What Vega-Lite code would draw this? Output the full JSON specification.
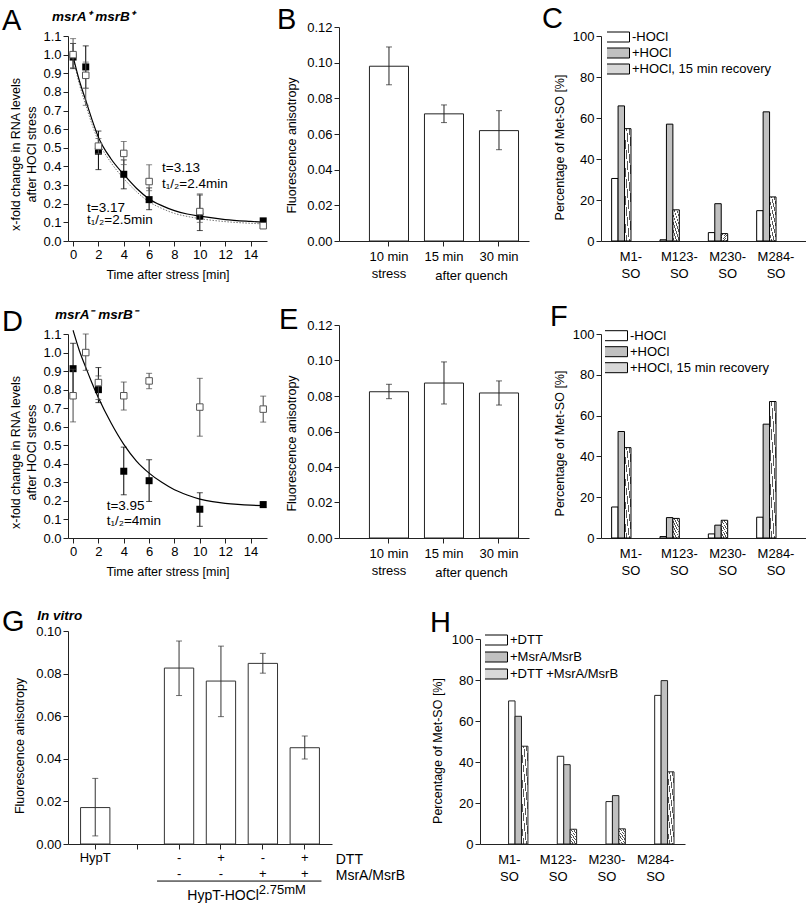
{
  "$schema": "https://vega.github.io/schema/vega-lite/v6.json",
  "background": "white",
  "padding": {"left": 2, "top": 5, "right": 0, "bottom": 0},
  "config": {
    "font": "Liberation Sans",
    "view": {"stroke": null},
    "axis": {"domainColor": "#222", "tickColor": "#222", "labelColor": "#000", "titleColor": "#000", "labelFontSize": 13, "titleFontSize": 12.5, "titleFontWeight": "normal", "grid": false, "tickSize": 5, "labelPadding": 2, "titlePadding": 6, "labelOverlap": false, "labelFont": "Liberation Sans", "titleFont": "Liberation Sans"},
    "title": {"fontSize": 29, "fontWeight": "normal", "anchor": "start", "frame": "group", "offset": 0, "baseline": "alphabetic", "color": "#000", "font": "Liberation Sans"},
    "legend": {"symbolType": "M-1.2,-0.5H1.2V0.5H-1.2Z", "symbolSize": 400, "symbolStrokeColor": "#000", "symbolStrokeWidth": 1, "symbolOpacity": 1, "labelFontSize": 13, "labelColor": "#000", "labelOffset": 4, "rowPadding": 2, "padding": 0, "clipHeight": 13, "labelFont": "Liberation Sans"},
    "text": {"font": "Liberation Sans", "color": "#000"}
  },
  "datasets": {
    "Acurve": [
      {"s": "solid", "t": 0, "v": 0.99}, {"s": "solid", "t": 0.5, "v": 0.86}, {"s": "solid", "t": 1, "v": 0.755}, {"s": "solid", "t": 1.5, "v": 0.65}, {"s": "solid", "t": 2, "v": 0.557}, {"s": "solid", "t": 3, "v": 0.44}, {"s": "solid", "t": 4, "v": 0.357}, {"s": "solid", "t": 5, "v": 0.283}, {"s": "solid", "t": 6, "v": 0.226}, {"s": "solid", "t": 7, "v": 0.19}, {"s": "solid", "t": 8, "v": 0.163}, {"s": "solid", "t": 9, "v": 0.145}, {"s": "solid", "t": 10, "v": 0.133}, {"s": "solid", "t": 12, "v": 0.115}, {"s": "solid", "t": 14, "v": 0.105}, {"s": "solid", "t": 15, "v": 0.101},
      {"s": "dotted", "t": 0, "v": 0.985}, {"s": "dotted", "t": 0.5, "v": 0.84}, {"s": "dotted", "t": 1, "v": 0.73}, {"s": "dotted", "t": 1.5, "v": 0.625}, {"s": "dotted", "t": 2, "v": 0.535}, {"s": "dotted", "t": 3, "v": 0.42}, {"s": "dotted", "t": 4, "v": 0.335}, {"s": "dotted", "t": 5, "v": 0.265}, {"s": "dotted", "t": 6, "v": 0.21}, {"s": "dotted", "t": 7, "v": 0.175}, {"s": "dotted", "t": 8, "v": 0.148}, {"s": "dotted", "t": 9, "v": 0.132}, {"s": "dotted", "t": 10, "v": 0.12}, {"s": "dotted", "t": 12, "v": 0.104}, {"s": "dotted", "t": 14, "v": 0.095}, {"s": "dotted", "t": 15, "v": 0.092}
    ],
    "Apts": [
      {"s": "f", "t": 0, "v": 0.987, "lo": 0.925, "hi": 1.06}, {"s": "f", "t": 1, "v": 0.934, "lo": 0.82, "hi": 1.047}, {"s": "f", "t": 2, "v": 0.482, "lo": 0.383, "hi": 0.59}, {"s": "f", "t": 4, "v": 0.358, "lo": 0.28, "hi": 0.435}, {"s": "f", "t": 6, "v": 0.222, "lo": 0.168, "hi": 0.285}, {"s": "f", "t": 10, "v": 0.133, "lo": 0.056, "hi": 0.247}, {"s": "f", "t": 15, "v": 0.108, "lo": 0.098, "hi": 0.118},
      {"s": "o", "t": 0, "v": 1.0, "lo": 0.93, "hi": 1.086}, {"s": "o", "t": 1, "v": 0.889, "lo": 0.728, "hi": 0.96}, {"s": "o", "t": 2, "v": 0.509, "lo": 0.47, "hi": 0.55}, {"s": "o", "t": 4, "v": 0.47, "lo": 0.41, "hi": 0.534}, {"s": "o", "t": 6, "v": 0.319, "lo": 0.27, "hi": 0.409}, {"s": "o", "t": 10, "v": 0.158, "lo": 0.1, "hi": 0.253}, {"s": "o", "t": 15, "v": 0.082, "lo": 0.072, "hi": 0.092}
    ],
    "Atext": [
      {"x": 7.02, "y": 0.392, "t": "t=3.13"}, {"x": 7.02, "y": 0.306, "t": "t₁/₂=2.4min"}, {"x": 1.1, "y": 0.177, "t": "t=3.17"}, {"x": 1.1, "y": 0.113, "t": "t₁/₂=2.5min"}
    ],
    "Alabel": [{"x": -1.66, "y": 1.2, "t": "msrA⁺ msrB⁺"}],
    "Dcurve": [
      {"t": 0, "v": 1.12}, {"t": 0.5, "v": 1.01}, {"t": 1, "v": 0.92}, {"t": 1.5, "v": 0.835}, {"t": 2, "v": 0.756}, {"t": 3, "v": 0.62}, {"t": 4, "v": 0.505}, {"t": 5, "v": 0.415}, {"t": 6, "v": 0.35}, {"t": 7, "v": 0.3}, {"t": 8, "v": 0.26}, {"t": 9, "v": 0.232}, {"t": 10, "v": 0.21}, {"t": 11, "v": 0.196}, {"t": 12, "v": 0.187}, {"t": 13, "v": 0.181}, {"t": 14, "v": 0.177}, {"t": 15, "v": 0.175}
    ],
    "Dpts": [
      {"s": "f", "t": 0, "v": 0.913, "lo": 0.78, "hi": 1.05}, {"s": "f", "t": 2, "v": 0.8, "lo": 0.73, "hi": 0.919}, {"s": "f", "t": 4, "v": 0.36, "lo": 0.233, "hi": 0.49}, {"s": "f", "t": 6, "v": 0.309, "lo": 0.197, "hi": 0.422}, {"s": "f", "t": 10, "v": 0.155, "lo": 0.063, "hi": 0.244}, {"s": "f", "t": 15, "v": 0.18, "lo": 0.165, "hi": 0.195},
      {"s": "o", "t": 0, "v": 0.767, "lo": 0.626, "hi": 0.91}, {"s": "o", "t": 1, "v": 1.0, "lo": 0.904, "hi": 1.1}, {"s": "o", "t": 2, "v": 0.838, "lo": 0.747, "hi": 0.874}, {"s": "o", "t": 4, "v": 0.767, "lo": 0.69, "hi": 0.841}, {"s": "o", "t": 6, "v": 0.847, "lo": 0.805, "hi": 0.888}, {"s": "o", "t": 10, "v": 0.706, "lo": 0.549, "hi": 0.861}, {"s": "o", "t": 15, "v": 0.695, "lo": 0.625, "hi": 0.765}
    ],
    "Dtext": [{"x": 2.65, "y": 0.174, "t": "t=3.95"}, {"x": 2.65, "y": 0.093, "t": "t₁/₂=4min"}],
    "Dlabel": [{"x": -1.43, "y": 1.2, "t": "msrA⁻ msrB⁻"}],
    "B": [
      {"c": "10 min", "v": 0.098, "lo": 0.0876, "hi": 0.1088}, {"c": "15 min", "v": 0.0713, "lo": 0.0664, "hi": 0.0763}, {"c": "30 min", "v": 0.0619, "lo": 0.0512, "hi": 0.0731}
    ],
    "E": [
      {"c": "10 min", "v": 0.0824, "lo": 0.0785, "hi": 0.0866}, {"c": "15 min", "v": 0.0873, "lo": 0.0755, "hi": 0.0992}, {"c": "30 min", "v": 0.0817, "lo": 0.0749, "hi": 0.0885}
    ],
    "C": [
      {"g": "M1- SO", "s": "-HOCl", "v": 30.5}, {"g": "M1- SO", "s": "+HOCl", "v": 65.9}, {"g": "M1- SO", "s": "+HOCl, 15 min recovery", "v": 54.8},
      {"g": "M123- SO", "s": "-HOCl", "v": 0.6}, {"g": "M123- SO", "s": "+HOCl", "v": 57.0}, {"g": "M123- SO", "s": "+HOCl, 15 min recovery", "v": 15.2},
      {"g": "M230- SO", "s": "-HOCl", "v": 4.1}, {"g": "M230- SO", "s": "+HOCl", "v": 18.2}, {"g": "M230- SO", "s": "+HOCl, 15 min recovery", "v": 3.6},
      {"g": "M284- SO", "s": "-HOCl", "v": 14.8}, {"g": "M284- SO", "s": "+HOCl", "v": 63.0}, {"g": "M284- SO", "s": "+HOCl, 15 min recovery", "v": 21.5}
    ],
    "F": [
      {"g": "M1- SO", "s": "-HOCl", "v": 15.2}, {"g": "M1- SO", "s": "+HOCl", "v": 52.2}, {"g": "M1- SO", "s": "+HOCl, 15 min recovery", "v": 44.3},
      {"g": "M123- SO", "s": "-HOCl", "v": 0.7}, {"g": "M123- SO", "s": "+HOCl", "v": 10.0}, {"g": "M123- SO", "s": "+HOCl, 15 min recovery", "v": 9.6},
      {"g": "M230- SO", "s": "-HOCl", "v": 2.0}, {"g": "M230- SO", "s": "+HOCl", "v": 6.3}, {"g": "M230- SO", "s": "+HOCl, 15 min recovery", "v": 8.7},
      {"g": "M284- SO", "s": "-HOCl", "v": 10.2}, {"g": "M284- SO", "s": "+HOCl", "v": 55.8}, {"g": "M284- SO", "s": "+HOCl, 15 min recovery", "v": 66.9}
    ],
    "H": [
      {"g": "M1- SO", "s": "+DTT", "v": 69.8}, {"g": "M1- SO", "s": "+MsrA/MsrB", "v": 62.3}, {"g": "M1- SO", "s": "+DTT +MsrA/MsrB", "v": 47.7},
      {"g": "M123- SO", "s": "+DTT", "v": 42.8}, {"g": "M123- SO", "s": "+MsrA/MsrB", "v": 38.7}, {"g": "M123- SO", "s": "+DTT +MsrA/MsrB", "v": 7.2},
      {"g": "M230- SO", "s": "+DTT", "v": 20.7}, {"g": "M230- SO", "s": "+MsrA/MsrB", "v": 23.6}, {"g": "M230- SO", "s": "+DTT +MsrA/MsrB", "v": 7.4},
      {"g": "M284- SO", "s": "+DTT", "v": 72.5}, {"g": "M284- SO", "s": "+MsrA/MsrB", "v": 79.7}, {"g": "M284- SO", "s": "+DTT +MsrA/MsrB", "v": 35.2}
    ],
    "G": [
      {"c": "HypT", "v": 0.0171, "lo": 0.0038, "hi": 0.0308}, {"c": "c1", "v": 0.0826, "lo": 0.0697, "hi": 0.0953}, {"c": "c2", "v": 0.0765, "lo": 0.0598, "hi": 0.0929}, {"c": "c3", "v": 0.0848, "lo": 0.0802, "hi": 0.0895}, {"c": "c4", "v": 0.0452, "lo": 0.0399, "hi": 0.0507}
    ],
    "Grow": [{"c": "c4", "y": -0.0075, "t": "DTT"}, {"c": "c4", "y": -0.015, "t": "MsrA/MsrB"}],
    "Gline": [{"a": "c1", "b": "c4", "y": -0.0174}],
    "Gsub": [{"c": "c3", "y": -0.0244, "t": "HypT-HOCl"}],
    "Gsup": [{"c": "c3", "y": -0.0214, "t": "2.75mM"}],
    "Gvitro": [{"c": "HypT", "y": 0.107, "t": "In vitro"}]
  },
  "resolve": {"scale": {"fill": "independent"}, "legend": {"fill": "independent"}},
  "spacing": 29,
  "vconcat": [
    {
      "resolve": {"scale": {"fill": "independent"}, "legend": {"fill": "independent"}},
      "spacing": 21,
      "vconcat": [
        {
          "resolve": {"scale": {"fill": "independent"}, "legend": {"fill": "independent"}},
          "bounds": "flush",
          "spacing": 72,
          "hconcat": [
            {
              "width": 199, "height": 214,
              "title": {"text": "A", "dx": -66, "dy": 30},
              "layer": [
                {"data": {"name": "Acurve"}, "transform": [{"filter": "datum.s == 'dotted'"}],
                 "mark": {"type": "line", "interpolate": "monotone", "color": "#777", "strokeWidth": 1, "strokeDash": [1.5, 1.5]},
                 "encoding": {
                   "x": {"field": "t", "type": "quantitative", "scale": {"domain": [-0.4, 15.3], "nice": false, "zero": false}, "axis": {"values": [0, 2, 4, 6, 8, 10, 12, 14], "labelOverlap": false, "title": "Time after stress [min]", "titlePadding": 7}},
                   "y": {"field": "v", "type": "quantitative", "scale": {"domain": [0, 1.1], "nice": false, "zero": false, "range": [214, 9]}, "axis": {"values": [0, 0.1, 0.2, 0.3, 0.4, 0.5, 0.6, 0.7, 0.8, 0.9, 1, 1.1], "labelOverlap": false, "format": ".1f", "title": ["x-fold change in RNA levels", "after HOCl stress"], "titleY": 127, "titlePadding": 4, "titleLineHeight": 16}}
                 }},
                {"data": {"name": "Acurve"}, "transform": [{"filter": "datum.s == 'solid'"}],
                 "mark": {"type": "line", "interpolate": "monotone", "color": "#000", "strokeWidth": 1.2},
                 "encoding": {"x": {"field": "t", "type": "quantitative", "axis": {"values": [0, 2, 4, 6, 8, 10, 12, 14]}}, "y": {"field": "v", "type": "quantitative", "axis": {"values": [0, 0.1, 0.2, 0.3, 0.4, 0.5, 0.6, 0.7, 0.8, 0.9, 1, 1.1], "format": ".1f"}}}},
                {"data": {"name": "Apts"}, "transform": [{"filter": "datum.s == 'f'"}],
                 "mark": {"type": "rule", "color": "#000"},
                 "encoding": {"x": {"field": "t", "type": "quantitative", "axis": {"values": [0, 2, 4, 6, 8, 10, 12, 14]}}, "y": {"field": "lo", "type": "quantitative", "axis": {"values": [0, 0.1, 0.2, 0.3, 0.4, 0.5, 0.6, 0.7, 0.8, 0.9, 1, 1.1], "format": ".1f"}}, "y2": {"field": "hi"}}},
                {"data": {"name": "Apts"}, "transform": [{"filter": "datum.s == 'f'"}, {"fold": ["lo", "hi"], "as": ["k", "e"]}],
                 "mark": {"type": "tick", "orient": "horizontal", "size": 6, "thickness": 1, "color": "#000"},
                 "encoding": {"x": {"field": "t", "type": "quantitative", "axis": {"values": [0, 2, 4, 6, 8, 10, 12, 14]}}, "y": {"field": "e", "type": "quantitative", "axis": {"values": [0, 0.1, 0.2, 0.3, 0.4, 0.5, 0.6, 0.7, 0.8, 0.9, 1, 1.1], "format": ".1f"}}}},
                {"data": {"name": "Apts"}, "transform": [{"filter": "datum.s == 'f'"}],
                 "mark": {"type": "point", "shape": "square", "filled": true, "color": "#000", "size": 49, "opacity": 1},
                 "encoding": {"x": {"field": "t", "type": "quantitative", "axis": {"values": [0, 2, 4, 6, 8, 10, 12, 14]}}, "y": {"field": "v", "type": "quantitative", "axis": {"values": [0, 0.1, 0.2, 0.3, 0.4, 0.5, 0.6, 0.7, 0.8, 0.9, 1, 1.1], "format": ".1f"}}}},
                {"data": {"name": "Apts"}, "transform": [{"filter": "datum.s == 'o'"}],
                 "mark": {"type": "rule", "color": "#555"},
                 "encoding": {"x": {"field": "t", "type": "quantitative", "axis": {"values": [0, 2, 4, 6, 8, 10, 12, 14]}}, "y": {"field": "lo", "type": "quantitative", "axis": {"values": [0, 0.1, 0.2, 0.3, 0.4, 0.5, 0.6, 0.7, 0.8, 0.9, 1, 1.1], "format": ".1f"}}, "y2": {"field": "hi"}}},
                {"data": {"name": "Apts"}, "transform": [{"filter": "datum.s == 'o'"}, {"fold": ["lo", "hi"], "as": ["k", "e"]}],
                 "mark": {"type": "tick", "orient": "horizontal", "size": 6, "thickness": 1, "color": "#555"},
                 "encoding": {"x": {"field": "t", "type": "quantitative", "axis": {"values": [0, 2, 4, 6, 8, 10, 12, 14]}}, "y": {"field": "e", "type": "quantitative", "axis": {"values": [0, 0.1, 0.2, 0.3, 0.4, 0.5, 0.6, 0.7, 0.8, 0.9, 1, 1.1], "format": ".1f"}}}},
                {"data": {"name": "Apts"}, "transform": [{"filter": "datum.s == 'o'"}],
                 "mark": {"type": "point", "shape": "square", "filled": true, "fill": "#fff", "stroke": "#555", "strokeWidth": 1, "size": 42, "opacity": 1},
                 "encoding": {"x": {"field": "t", "type": "quantitative", "axis": {"values": [0, 2, 4, 6, 8, 10, 12, 14]}}, "y": {"field": "v", "type": "quantitative", "axis": {"values": [0, 0.1, 0.2, 0.3, 0.4, 0.5, 0.6, 0.7, 0.8, 0.9, 1, 1.1], "format": ".1f"}}}},
                {"data": {"name": "Atext"},
                 "mark": {"type": "text", "align": "left", "baseline": "middle", "fontSize": 13.5},
                 "encoding": {"x": {"field": "x", "type": "quantitative", "axis": {"values": [0, 2, 4, 6, 8, 10, 12, 14]}}, "y": {"field": "y", "type": "quantitative", "axis": {"values": [0, 0.1, 0.2, 0.3, 0.4, 0.5, 0.6, 0.7, 0.8, 0.9, 1, 1.1], "format": ".1f"}}, "text": {"field": "t"}}},
                {"data": {"name": "Alabel"},
                 "mark": {"type": "text", "align": "left", "baseline": "middle", "fontSize": 13.5, "fontStyle": "italic", "fontWeight": "bold"},
                 "encoding": {"x": {"field": "x", "type": "quantitative", "axis": {"values": [0, 2, 4, 6, 8, 10, 12, 14]}}, "y": {"field": "y", "type": "quantitative", "axis": {"values": [0, 0.1, 0.2, 0.3, 0.4, 0.5, 0.6, 0.7, 0.8, 0.9, 1, 1.1], "format": ".1f"}}, "text": {"field": "t"}}}
              ]
            },
            {
              "width": 190, "height": 214,
              "title": {"text": "B", "dx": -62, "dy": 18},
              "data": {"name": "B"},
              "layer": [
                {"mark": {"type": "bar", "fill": "#fff", "stroke": "#222", "strokeWidth": 1},
                 "encoding": {
                   "x": {"field": "c", "type": "nominal", "scale": {"domain": ["10 min", "15 min", "30 min"], "paddingInner": 0.29, "paddingOuter": 0.372, "align": 0.744}, "axis": {"labelAngle": 0, "labelOverlap": false, "labelExpr": "datum.value == '10 min' ? ['10 min', 'stress'] : datum.value", "labelLineHeight": 17, "labelPadding": 4, "title": "after quench", "titleX": 132, "titleY": 34, "titleBaseline": "middle", "titleFontSize": 13}},
                   "y": {"field": "v", "type": "quantitative", "scale": {"domain": [0, 0.12], "nice": false}, "axis": {"values": [0, 0.02, 0.04, 0.06, 0.08, 0.1, 0.12], "labelOverlap": false, "format": ".2f", "title": "Fluorescence anisotropy", "titleY": 118, "titlePadding": 8}}
                 }},
                {"mark": {"type": "rule", "color": "#222"},
                 "encoding": {"x": {"field": "c", "type": "nominal"}, "y": {"field": "lo", "type": "quantitative", "axis": {"values": [0, 0.02, 0.04, 0.06, 0.08, 0.1, 0.12], "format": ".2f"}}, "y2": {"field": "hi"}}},
                {"transform": [{"fold": ["lo", "hi"], "as": ["k", "e"]}],
                 "mark": {"type": "tick", "orient": "horizontal", "size": 6, "thickness": 1, "color": "#222"},
                 "encoding": {"x": {"field": "c", "type": "nominal"}, "y": {"field": "e", "type": "quantitative", "axis": {"values": [0, 0.02, 0.04, 0.06, 0.08, 0.1, 0.12], "format": ".2f"}}}}
              ]
            },
            {
              "width": 205, "height": 214,
              "title": {"text": "C", "dx": -59, "dy": 11},
              "data": {"name": "C"},
              "mark": {"type": "bar", "stroke": "#000", "strokeWidth": 1},
              "encoding": {
                "x": {"field": "g", "type": "nominal", "scale": {"domain": ["M1- SO", "M123- SO", "M230- SO", "M284- SO"], "paddingInner": 0.2, "paddingOuter": 0.22}, "axis": {"labelAngle": 0, "labelOverlap": false, "labelExpr": "split(datum.value, ' ')", "ticks": false, "labelPadding": 9, "labelLineHeight": 17, "title": null}},
                "xOffset": {"field": "s", "type": "nominal", "scale": {"domain": ["-HOCl", "+HOCl", "+HOCl, 15 min recovery"], "paddingInner": 0, "paddingOuter": 0}},
                "y": {"field": "v", "type": "quantitative", "scale": {"domain": [0, 100], "nice": false, "range": [214, 9]}, "axis": {"values": [0, 20, 40, 60, 80, 100], "labelOverlap": false, "title": "Percentage of Met-SO [%]", "titleY": 120, "titlePadding": 6}},
                "fill": {"field": "s", "type": "nominal", "scale": {"domain": ["-HOCl", "+HOCl", "+HOCl, 15 min recovery"], "range": ["#ffffff", "#c0c0c0", "#d8d8d8"]}, "legend": {"orient": "none", "legendX": 6, "legendY": 3.5, "title": null, "direction": "vertical", "symbolStrokeColor": "#000", "symbolStrokeWidth": 1, "encode": {"symbols": {"update": {"stroke": {"value": "#000"}, "strokeWidth": {"value": 1}}}}},
                  "condition": {"test": "datum.s == '+HOCl, 15 min recovery'", "value": {"gradient": "linear", "x1": 0, "y1": 0, "x2": 1, "y2": 1, "stops": [
                  {"offset": 0, "color": "#555"}, {"offset": 0.04, "color": "#555"}, {"offset": 0.04, "color": "#fff"}, {"offset": 0.125, "color": "#fff"},
                  {"offset": 0.125, "color": "#555"}, {"offset": 0.165, "color": "#555"}, {"offset": 0.165, "color": "#fff"}, {"offset": 0.25, "color": "#fff"},
                  {"offset": 0.25, "color": "#555"}, {"offset": 0.29, "color": "#555"}, {"offset": 0.29, "color": "#fff"}, {"offset": 0.375, "color": "#fff"},
                  {"offset": 0.375, "color": "#555"}, {"offset": 0.415, "color": "#555"}, {"offset": 0.415, "color": "#fff"}, {"offset": 0.5, "color": "#fff"},
                  {"offset": 0.5, "color": "#555"}, {"offset": 0.54, "color": "#555"}, {"offset": 0.54, "color": "#fff"}, {"offset": 0.625, "color": "#fff"},
                  {"offset": 0.625, "color": "#555"}, {"offset": 0.665, "color": "#555"}, {"offset": 0.665, "color": "#fff"}, {"offset": 0.75, "color": "#fff"},
                  {"offset": 0.75, "color": "#555"}, {"offset": 0.79, "color": "#555"}, {"offset": 0.79, "color": "#fff"}, {"offset": 0.875, "color": "#fff"},
                  {"offset": 0.875, "color": "#555"}, {"offset": 0.915, "color": "#555"}, {"offset": 0.915, "color": "#fff"}, {"offset": 1, "color": "#fff"}
                ]}}}
              }
            }
          ]
        },
        {
          "resolve": {"scale": {"fill": "independent"}, "legend": {"fill": "independent"}},
          "bounds": "flush",
          "spacing": 72,
          "hconcat": [
            {
              "width": 199, "height": 213,
              "title": {"text": "D", "dx": -66, "dy": 33},
              "layer": [
                {"data": {"name": "Dcurve"},
                 "mark": {"type": "line", "interpolate": "monotone", "color": "#000", "strokeWidth": 1.2},
                 "encoding": {
                   "x": {"field": "t", "type": "quantitative", "scale": {"domain": [-0.4, 15.3], "nice": false, "zero": false}, "axis": {"values": [0, 2, 4, 6, 8, 10, 12, 14], "labelOverlap": false, "title": "Time after stress [min]", "titlePadding": 7}},
                   "y": {"field": "v", "type": "quantitative", "scale": {"domain": [0, 1.1], "nice": false, "zero": false, "range": [213, 9]}, "axis": {"values": [0, 0.1, 0.2, 0.3, 0.4, 0.5, 0.6, 0.7, 0.8, 0.9, 1, 1.1], "labelOverlap": false, "format": ".1f", "title": ["x-fold change in RNA levels", "after HOCl stress"], "titleY": 127, "titlePadding": 4, "titleLineHeight": 16}}
                 }},
                {"data": {"name": "Dpts"}, "transform": [{"filter": "datum.s == 'f'"}],
                 "mark": {"type": "rule", "color": "#000"},
                 "encoding": {"x": {"field": "t", "type": "quantitative", "axis": {"values": [0, 2, 4, 6, 8, 10, 12, 14]}}, "y": {"field": "lo", "type": "quantitative", "axis": {"values": [0, 0.1, 0.2, 0.3, 0.4, 0.5, 0.6, 0.7, 0.8, 0.9, 1, 1.1], "format": ".1f"}}, "y2": {"field": "hi"}}},
                {"data": {"name": "Dpts"}, "transform": [{"filter": "datum.s == 'f'"}, {"fold": ["lo", "hi"], "as": ["k", "e"]}],
                 "mark": {"type": "tick", "orient": "horizontal", "size": 6, "thickness": 1, "color": "#000"},
                 "encoding": {"x": {"field": "t", "type": "quantitative", "axis": {"values": [0, 2, 4, 6, 8, 10, 12, 14]}}, "y": {"field": "e", "type": "quantitative", "axis": {"values": [0, 0.1, 0.2, 0.3, 0.4, 0.5, 0.6, 0.7, 0.8, 0.9, 1, 1.1], "format": ".1f"}}}},
                {"data": {"name": "Dpts"}, "transform": [{"filter": "datum.s == 'f'"}],
                 "mark": {"type": "point", "shape": "square", "filled": true, "color": "#000", "size": 49, "opacity": 1},
                 "encoding": {"x": {"field": "t", "type": "quantitative", "axis": {"values": [0, 2, 4, 6, 8, 10, 12, 14]}}, "y": {"field": "v", "type": "quantitative", "axis": {"values": [0, 0.1, 0.2, 0.3, 0.4, 0.5, 0.6, 0.7, 0.8, 0.9, 1, 1.1], "format": ".1f"}}}},
                {"data": {"name": "Dpts"}, "transform": [{"filter": "datum.s == 'o'"}],
                 "mark": {"type": "rule", "color": "#444"},
                 "encoding": {"x": {"field": "t", "type": "quantitative", "axis": {"values": [0, 2, 4, 6, 8, 10, 12, 14]}}, "y": {"field": "lo", "type": "quantitative", "axis": {"values": [0, 0.1, 0.2, 0.3, 0.4, 0.5, 0.6, 0.7, 0.8, 0.9, 1, 1.1], "format": ".1f"}}, "y2": {"field": "hi"}}},
                {"data": {"name": "Dpts"}, "transform": [{"filter": "datum.s == 'o'"}, {"fold": ["lo", "hi"], "as": ["k", "e"]}],
                 "mark": {"type": "tick", "orient": "horizontal", "size": 6, "thickness": 1, "color": "#444"},
                 "encoding": {"x": {"field": "t", "type": "quantitative", "axis": {"values": [0, 2, 4, 6, 8, 10, 12, 14]}}, "y": {"field": "e", "type": "quantitative", "axis": {"values": [0, 0.1, 0.2, 0.3, 0.4, 0.5, 0.6, 0.7, 0.8, 0.9, 1, 1.1], "format": ".1f"}}}},
                {"data": {"name": "Dpts"}, "transform": [{"filter": "datum.s == 'o'"}],
                 "mark": {"type": "point", "shape": "square", "filled": true, "fill": "#fff", "stroke": "#555", "strokeWidth": 1, "size": 42, "opacity": 1},
                 "encoding": {"x": {"field": "t", "type": "quantitative", "axis": {"values": [0, 2, 4, 6, 8, 10, 12, 14]}}, "y": {"field": "v", "type": "quantitative", "axis": {"values": [0, 0.1, 0.2, 0.3, 0.4, 0.5, 0.6, 0.7, 0.8, 0.9, 1, 1.1], "format": ".1f"}}}},
                {"data": {"name": "Dtext"},
                 "mark": {"type": "text", "align": "left", "baseline": "middle", "fontSize": 13.5},
                 "encoding": {"x": {"field": "x", "type": "quantitative", "axis": {"values": [0, 2, 4, 6, 8, 10, 12, 14]}}, "y": {"field": "y", "type": "quantitative", "axis": {"values": [0, 0.1, 0.2, 0.3, 0.4, 0.5, 0.6, 0.7, 0.8, 0.9, 1, 1.1], "format": ".1f"}}, "text": {"field": "t"}}},
                {"data": {"name": "Dlabel"},
                 "mark": {"type": "text", "align": "left", "baseline": "middle", "fontSize": 13.5, "fontStyle": "italic", "fontWeight": "bold"},
                 "encoding": {"x": {"field": "x", "type": "quantitative", "axis": {"values": [0, 2, 4, 6, 8, 10, 12, 14]}}, "y": {"field": "y", "type": "quantitative", "axis": {"values": [0, 0.1, 0.2, 0.3, 0.4, 0.5, 0.6, 0.7, 0.8, 0.9, 1, 1.1], "format": ".1f"}}, "text": {"field": "t"}}}
              ]
            },
            {
              "width": 190, "height": 213,
              "title": {"text": "E", "dx": -60, "dy": 20},
              "data": {"name": "E"},
              "layer": [
                {"mark": {"type": "bar", "fill": "#fff", "stroke": "#222", "strokeWidth": 1},
                 "encoding": {
                   "x": {"field": "c", "type": "nominal", "scale": {"domain": ["10 min", "15 min", "30 min"], "paddingInner": 0.29, "paddingOuter": 0.372, "align": 0.744}, "axis": {"labelAngle": 0, "labelOverlap": false, "labelExpr": "datum.value == '10 min' ? ['10 min', 'stress'] : datum.value", "labelLineHeight": 17, "labelPadding": 4, "title": "after quench", "titleX": 132, "titleY": 34, "titleBaseline": "middle", "titleFontSize": 13}},
                   "y": {"field": "v", "type": "quantitative", "scale": {"domain": [0, 0.12], "nice": false}, "axis": {"values": [0, 0.02, 0.04, 0.06, 0.08, 0.1, 0.12], "labelOverlap": false, "format": ".2f", "title": "Fluorescence anisotropy", "titleY": 118, "titlePadding": 8}}
                 }},
                {"mark": {"type": "rule", "color": "#222"},
                 "encoding": {"x": {"field": "c", "type": "nominal"}, "y": {"field": "lo", "type": "quantitative", "axis": {"values": [0, 0.02, 0.04, 0.06, 0.08, 0.1, 0.12], "format": ".2f"}}, "y2": {"field": "hi"}}},
                {"transform": [{"fold": ["lo", "hi"], "as": ["k", "e"]}],
                 "mark": {"type": "tick", "orient": "horizontal", "size": 6, "thickness": 1, "color": "#222"},
                 "encoding": {"x": {"field": "c", "type": "nominal"}, "y": {"field": "e", "type": "quantitative", "axis": {"values": [0, 0.02, 0.04, 0.06, 0.08, 0.1, 0.12], "format": ".2f"}}}}
              ]
            },
            {
              "width": 205, "height": 213,
              "title": {"text": "F", "dx": -51, "dy": 11},
              "data": {"name": "F"},
              "mark": {"type": "bar", "stroke": "#000", "strokeWidth": 1},
              "encoding": {
                "x": {"field": "g", "type": "nominal", "scale": {"domain": ["M1- SO", "M123- SO", "M230- SO", "M284- SO"], "paddingInner": 0.2, "paddingOuter": 0.22}, "axis": {"labelAngle": 0, "labelOverlap": false, "labelExpr": "split(datum.value, ' ')", "ticks": false, "labelPadding": 9, "labelLineHeight": 17, "title": null}},
                "xOffset": {"field": "s", "type": "nominal", "scale": {"domain": ["-HOCl", "+HOCl", "+HOCl, 15 min recovery"], "paddingInner": 0, "paddingOuter": 0}},
                "y": {"field": "v", "type": "quantitative", "scale": {"domain": [0, 100], "nice": false, "range": [213, 9]}, "axis": {"values": [0, 20, 40, 60, 80, 100], "labelOverlap": false, "title": "Percentage of Met-SO [%]", "titleY": 118, "titlePadding": 6}},
                "fill": {"field": "s", "type": "nominal", "scale": {"domain": ["-HOCl", "+HOCl", "+HOCl, 15 min recovery"], "range": ["#ffffff", "#c0c0c0", "#d8d8d8"]}, "legend": {"orient": "none", "legendX": 4, "legendY": 4.2, "title": null, "direction": "vertical", "symbolStrokeColor": "#000", "symbolStrokeWidth": 1, "encode": {"symbols": {"update": {"stroke": {"value": "#000"}, "strokeWidth": {"value": 1}}}}},
                  "condition": {"test": "datum.s == '+HOCl, 15 min recovery'", "value": {"gradient": "linear", "x1": 0, "y1": 0, "x2": 1, "y2": 1, "stops": [
                  {"offset": 0, "color": "#555"}, {"offset": 0.04, "color": "#555"}, {"offset": 0.04, "color": "#fff"}, {"offset": 0.125, "color": "#fff"},
                  {"offset": 0.125, "color": "#555"}, {"offset": 0.165, "color": "#555"}, {"offset": 0.165, "color": "#fff"}, {"offset": 0.25, "color": "#fff"},
                  {"offset": 0.25, "color": "#555"}, {"offset": 0.29, "color": "#555"}, {"offset": 0.29, "color": "#fff"}, {"offset": 0.375, "color": "#fff"},
                  {"offset": 0.375, "color": "#555"}, {"offset": 0.415, "color": "#555"}, {"offset": 0.415, "color": "#fff"}, {"offset": 0.5, "color": "#fff"},
                  {"offset": 0.5, "color": "#555"}, {"offset": 0.54, "color": "#555"}, {"offset": 0.54, "color": "#fff"}, {"offset": 0.625, "color": "#fff"},
                  {"offset": 0.625, "color": "#555"}, {"offset": 0.665, "color": "#555"}, {"offset": 0.665, "color": "#fff"}, {"offset": 0.75, "color": "#fff"},
                  {"offset": 0.75, "color": "#555"}, {"offset": 0.79, "color": "#555"}, {"offset": 0.79, "color": "#fff"}, {"offset": 0.875, "color": "#fff"},
                  {"offset": 0.875, "color": "#555"}, {"offset": 0.915, "color": "#555"}, {"offset": 0.915, "color": "#fff"}, {"offset": 1, "color": "#fff"}
                ]}}}
              }
            }
          ]
        }
      ]
    },
    {
      "resolve": {"scale": {"fill": "independent"}, "legend": {"fill": "independent"}},
      "bounds": "flush",
      "spacing": 148,
      "hconcat": [
        {
          "width": 264, "height": 213,
          "title": {"text": "G", "dx": -66, "dy": 32},
          "layer": [
            {"data": {"name": "G"},
             "mark": {"type": "bar", "fill": "#fff", "stroke": "#333", "strokeWidth": 1},
             "encoding": {
               "x": {"field": "c", "type": "nominal", "scale": {"domain": ["HypT", "gap", "c1", "c2", "c3", "c4"], "paddingInner": 0.3, "paddingOuter": 0.3}, "axis": {"labelAngle": 0, "labelOverlap": false, "labelExpr": "datum.value == 'HypT' ? ['HypT', ''] : datum.value == 'gap' ? '' : datum.value == 'c1' ? ['-', '-'] : datum.value == 'c2' ? ['+', '-'] : datum.value == 'c3' ? ['-', '+'] : ['+', '+']", "labelLineHeight": 16, "labelPadding": 2, "title": null}},
               "y": {"field": "v", "type": "quantitative", "scale": {"domain": [0, 0.1], "nice": false}, "axis": {"values": [0, 0.02, 0.04, 0.06, 0.08, 0.1], "labelOverlap": false, "format": ".2f", "title": "Fluorescence anisotropy", "titleY": 114.5, "titlePadding": 9}}
             }},
            {"data": {"name": "G"},
             "mark": {"type": "rule", "color": "#333"},
             "encoding": {"x": {"field": "c", "type": "nominal"}, "y": {"field": "lo", "type": "quantitative"}, "y2": {"field": "hi"}}},
            {"data": {"name": "G"}, "transform": [{"fold": ["lo", "hi"], "as": ["k", "e"]}],
             "mark": {"type": "tick", "orient": "horizontal", "size": 6, "thickness": 1, "color": "#333"},
             "encoding": {"x": {"field": "c", "type": "nominal"}, "y": {"field": "e", "type": "quantitative"}}},
            {"data": {"name": "Grow"},
             "mark": {"type": "text", "align": "left", "baseline": "middle", "fontSize": 14, "dx": 31},
             "encoding": {"x": {"field": "c", "type": "nominal"}, "y": {"field": "y", "type": "quantitative"}, "text": {"field": "t"}}},
            {"data": {"name": "Gline"},
             "mark": {"type": "rule", "color": "#000", "strokeWidth": 1},
             "encoding": {"x": {"field": "a", "type": "nominal", "bandPosition": -0.25}, "x2": {"field": "b", "bandPosition": 1.07}, "y": {"field": "y", "type": "quantitative"}}},
            {"data": {"name": "Gsub"},
             "mark": {"type": "text", "align": "right", "baseline": "middle", "fontSize": 14, "dx": -4},
             "encoding": {"x": {"field": "c", "type": "nominal"}, "y": {"field": "y", "type": "quantitative"}, "text": {"field": "t"}}},
            {"data": {"name": "Gsup"},
             "mark": {"type": "text", "align": "left", "baseline": "middle", "fontSize": 13, "dx": -4},
             "encoding": {"x": {"field": "c", "type": "nominal"}, "y": {"field": "y", "type": "quantitative"}, "text": {"field": "t"}}},
            {"data": {"name": "Gvitro"},
             "mark": {"type": "text", "align": "left", "baseline": "middle", "fontSize": 13.5, "fontStyle": "italic", "fontWeight": "bold", "dx": -58},
             "encoding": {"x": {"field": "c", "type": "nominal"}, "y": {"field": "y", "type": "quantitative"}, "text": {"field": "t"}}}
          ]
        },
        {
          "width": 205, "height": 213,
          "title": {"text": "H", "dx": -50, "dy": 11},
          "data": {"name": "H"},
          "mark": {"type": "bar", "stroke": "#222", "strokeWidth": 1},
          "encoding": {
            "x": {"field": "g", "type": "nominal", "scale": {"domain": ["M1- SO", "M123- SO", "M230- SO", "M284- SO"], "paddingInner": 0.17, "paddingOuter": 0.19}, "axis": {"labelAngle": 0, "labelOverlap": false, "labelExpr": "split(datum.value, ' ')", "ticks": false, "labelPadding": 9, "labelLineHeight": 17, "title": null}},
            "xOffset": {"field": "s", "type": "nominal", "scale": {"domain": ["+DTT", "+MsrA/MsrB", "+DTT +MsrA/MsrB"], "paddingInner": 0, "paddingOuter": 0}},
            "y": {"field": "v", "type": "quantitative", "scale": {"domain": [0, 100], "nice": false, "range": [213, 8]}, "axis": {"values": [0, 20, 40, 60, 80, 100], "labelOverlap": false, "title": "Percentage of Met-SO [%]", "titleY": 119.5, "titlePadding": 7}},
            "fill": {"field": "s", "type": "nominal", "scale": {"domain": ["+DTT", "+MsrA/MsrB", "+DTT +MsrA/MsrB"], "range": ["#ffffff", "#c0c0c0", "#d8d8d8"]}, "legend": {"orient": "none", "legendX": 5, "legendY": 2.5, "title": null, "direction": "vertical", "rowPadding": 3, "symbolStrokeColor": "#000", "symbolStrokeWidth": 1, "encode": {"symbols": {"update": {"stroke": {"value": "#000"}, "strokeWidth": {"value": 1}}}}},
              "condition": {"test": "datum.s == '+DTT +MsrA/MsrB'", "value": {"gradient": "linear", "x1": 0, "y1": 0, "x2": 1, "y2": 1, "stops": [
              {"offset": 0, "color": "#555"}, {"offset": 0.04, "color": "#555"}, {"offset": 0.04, "color": "#fff"}, {"offset": 0.125, "color": "#fff"},
              {"offset": 0.125, "color": "#555"}, {"offset": 0.165, "color": "#555"}, {"offset": 0.165, "color": "#fff"}, {"offset": 0.25, "color": "#fff"},
              {"offset": 0.25, "color": "#555"}, {"offset": 0.29, "color": "#555"}, {"offset": 0.29, "color": "#fff"}, {"offset": 0.375, "color": "#fff"},
              {"offset": 0.375, "color": "#555"}, {"offset": 0.415, "color": "#555"}, {"offset": 0.415, "color": "#fff"}, {"offset": 0.5, "color": "#fff"},
              {"offset": 0.5, "color": "#555"}, {"offset": 0.54, "color": "#555"}, {"offset": 0.54, "color": "#fff"}, {"offset": 0.625, "color": "#fff"},
              {"offset": 0.625, "color": "#555"}, {"offset": 0.665, "color": "#555"}, {"offset": 0.665, "color": "#fff"}, {"offset": 0.75, "color": "#fff"},
              {"offset": 0.75, "color": "#555"}, {"offset": 0.79, "color": "#555"}, {"offset": 0.79, "color": "#fff"}, {"offset": 0.875, "color": "#fff"},
              {"offset": 0.875, "color": "#555"}, {"offset": 0.915, "color": "#555"}, {"offset": 0.915, "color": "#fff"}, {"offset": 1, "color": "#fff"}
            ]}}}
          }
        }
      ]
    }
  ]
}
